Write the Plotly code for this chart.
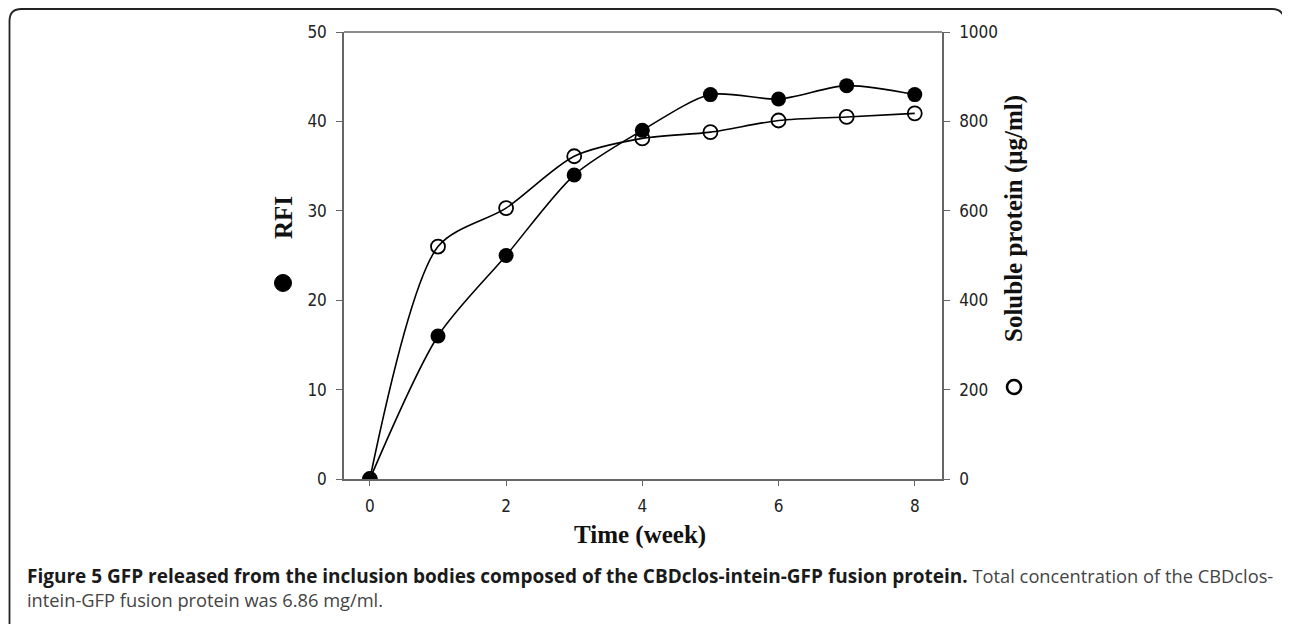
import plotly.graph_objects as go

weeks = [0, 1, 2, 3, 4, 5, 6, 7, 8]
rfi = [0, 16, 25, 34, 39, 43, 42.5, 44, 43]
soluble_protein = [0, 520, 606, 722, 762, 776, 802, 810, 818]
x_ticks = [0, 2, 4, 6, 8]
left_ticks = [0, 10, 20, 30, 40, 50]
right_ticks = [0, 200, 400, 600, 800, 1000]

OFF = 8  # page body margin
W, H = 1282, 616
# plot area in page pixels
L, R, T, B = 344, 942, 32, 479
def px(x):
    return (x - L) / (R - L)
def py(y):
    return (B - y) / (B - T)

tickfont = dict(family="Liberation Sans Narrow, Arial Narrow, DejaVu Sans Condensed, sans-serif", size=17, color="#222")
serif = "Liberation Serif, Times New Roman, serif"

fig = go.Figure()
fig.add_trace(go.Scatter(
    x=weeks, y=soluble_protein, yaxis="y2", mode="lines+markers",
    line=dict(color="black", width=1.6, shape="spline", smoothing=0.8),
    marker=dict(symbol="circle-open", size=14, color="black", line=dict(width=1.8)),
    showlegend=False))
fig.add_trace(go.Scatter(
    x=weeks, y=rfi, mode="lines+markers",
    line=dict(color="black", width=1.6, shape="spline", smoothing=0.8),
    marker=dict(symbol="circle", size=15, color="black"),
    showlegend=False))

axcol = "#666"
fig.update_layout(
    width=W, height=H,
    margin=dict(l=L - OFF, r=W - (R - OFF), t=T - OFF, b=H - (B - OFF)),
    paper_bgcolor="white", plot_bgcolor="white",
    xaxis=dict(range=[-0.38, 8.40], tickvals=x_ticks, ticks="outside", ticklen=5,
               tickcolor=axcol, showline=True, linecolor=axcol, linewidth=1.5,
               mirror=False, showgrid=False, zeroline=False, tickfont=tickfont,
               ticklabelstandoff=6),
    yaxis=dict(range=[0, 50], tickvals=left_ticks, ticks="outside", ticklen=6,
               tickcolor=axcol, showline=True, linecolor=axcol, linewidth=1.5,
               showgrid=False, zeroline=False, tickfont=tickfont, ticklabelstandoff=6),
    yaxis2=dict(range=[0, 1000], tickvals=right_ticks, overlaying="y", side="right",
                ticks="outside", ticklen=6, tickcolor=axcol, showline=True,
                linecolor=axcol, linewidth=1.5, showgrid=False, zeroline=False,
                tickfont=tickfont, ticklabelstandoff=6),
)

# top border of plot area
fig.add_shape(type="line", xref="paper", yref="paper", x0=0, x1=1, y0=1, y1=1,
              line=dict(color=axcol, width=1.5))

# outer rounded frame
x0, x1, y0, y1, r = px(9.5), px(1284), py(9), py(640), 12
rx = r / (R - L)
ry = r / (B - T)
path = (f"M {x0},{y1} L {x0},{y0 - ry} Q {x0},{y0} {x0 + rx},{y0} "
        f"L {x1 - rx},{y0} Q {x1},{y0} {x1},{y0 - ry} L {x1},{y1}")
fig.add_shape(type="path", xref="paper", yref="paper", path=path,
              line=dict(color="#222", width=1.8))

# legend symbols beside the axis titles
fig.add_shape(type="circle", xref="paper", yref="paper", xsizemode="pixel", ysizemode="pixel",
              xanchor=px(283), yanchor=py(283), x0=-8.5, x1=8.5, y0=-8.5, y1=8.5,
              fillcolor="black", line=dict(color="black", width=1))
fig.add_shape(type="circle", xref="paper", yref="paper", xsizemode="pixel", ysizemode="pixel",
              xanchor=px(1014), yanchor=py(387), x0=-7, x1=7, y0=-7, y1=7,
              fillcolor="white", line=dict(color="black", width=2.6))

def A(x, y, text, font, **kw):
    d = dict(x=px(x), y=py(y), xref="paper", yref="paper", text=text, showarrow=False,
             font=font, xanchor="center", yanchor="middle")
    d.update(kw)
    return d

ann = []
ann.append(A(284, 218, "<b>RFI</b>", dict(family=serif, size=25, color="#111"), textangle=-90))
ann.append(A(1014, 219, "<b>Soluble protein (μg/ml)</b>", dict(family=serif, size=25, color="#111"), textangle=-90))
ann.append(A(640, 535, "<b>Time (week)</b>", dict(family=serif, size=25, color="#111")))
cap_font = dict(family="Open Sans, sans-serif", size=18.3, color="#444")
ann.append(A(25, 576, "<b><span style='color:#1a1a1a;font-size:19px'>Figure 5 GFP released from the inclusion bodies composed of the CBDclos-intein-GFP fusion protein.</span></b> Total concentration of the CBDclos-",
             cap_font, xanchor="left", align="left"))
ann.append(A(25, 599, "intein-GFP fusion protein was 6.86 mg/ml.", cap_font, xanchor="left", align="left"))
fig.update_layout(annotations=ann)

fig.write_html("out.html")
